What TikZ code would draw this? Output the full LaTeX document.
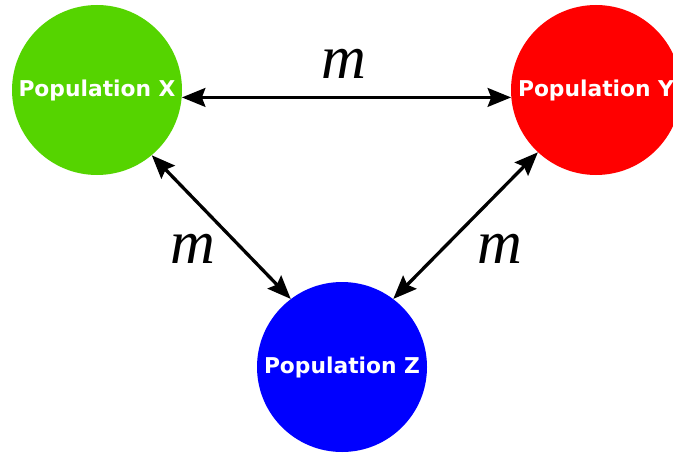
\documentclass[tikz,border=0pt]{standalone}
\usepackage{fontspec}
\usepackage{tikz}
\usetikzlibrary{arrows.meta,positioning}
\newfontfamily\popfont{DejaVu Sans}
\newfontfamily\ratefont{Liberation Serif}
\definecolor{popgreen}{RGB}{85,212,0}
\definecolor{popred}{RGB}{255,0,0}
\definecolor{popblue}{RGB}{0,0,255}

\tikzset{
  pop/.style={circle, minimum size=5.1cm, inner sep=0pt, text=white,
    font=\popfont\bfseries\fontsize{18.6}{20}\selectfont},
  flow/.style={line width=2.8pt, {Stealth[length=20pt,width=16pt,inset=3pt]}-{Stealth[length=20pt,width=16pt,inset=3pt]}},
  rate/.style={anchor=base, inner sep=0pt, font=\ratefont\itshape\fontsize{53}{56}\selectfont}
}

\begin{document}
\begin{tikzpicture}
  \useasboundingbox (0,0) rectangle (20.19,13.56);
  \clip (0,0) rectangle (20.19,13.56);

  \node[pop, fill=popgreen] (popx) at (2.91,10.86) {Population X};
  \node[pop, fill=popred]   (popy) at (17.88,10.86) {Population Y};
  \node[pop, fill=popblue]  (popz) at (10.26,2.55) {Population Z};

  \draw[flow] (popx.-5.6) -- (popy.185);
  \draw[flow] (popx.-50) -- (popz.127);
  \draw[flow] (popy.227) -- (popz.53);

  \node[rate] (mxy) at (10.32,11.19) {m};
  \node[rate] (mxz) at (5.79,5.67) {m};
  \node[rate] (myz) at (15.0,5.67) {m};
\end{tikzpicture}
\end{document}
